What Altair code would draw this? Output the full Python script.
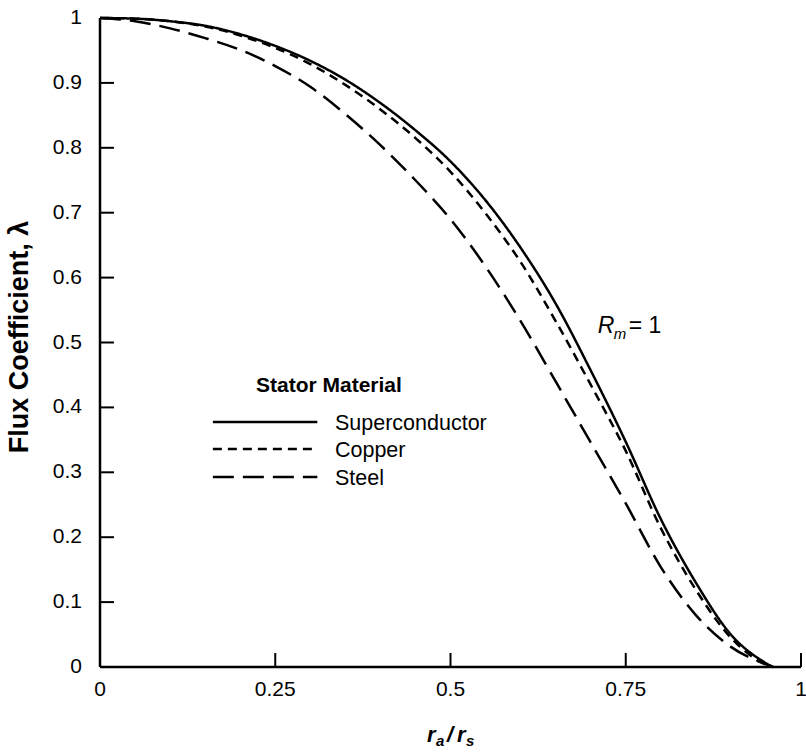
import altair as alt
import pandas as pd

# ---------------- data ----------------
x_vals = [0.00, 0.05, 0.10, 0.15, 0.20, 0.25, 0.30, 0.35, 0.40, 0.45, 0.50,
          0.55, 0.60, 0.65, 0.70, 0.75, 0.80, 0.85, 0.90, 0.95, 0.96]
superconductor = [1.000, 0.999, 0.995, 0.988, 0.975, 0.957, 0.934, 0.905, 0.869, 0.827, 0.779,
                  0.719, 0.646, 0.560, 0.457, 0.347, 0.228, 0.130, 0.050, 0.006, 0.000]
copper = [1.000, 0.999, 0.995, 0.987, 0.973, 0.954, 0.929, 0.897, 0.859, 0.815, 0.763,
          0.699, 0.624, 0.533, 0.435, 0.333, 0.214, 0.119, 0.045, 0.004, 0.000]
steel = [1.000, 0.995, 0.984, 0.969, 0.951, 0.926, 0.894, 0.852, 0.804, 0.750, 0.690,
         0.617, 0.533, 0.440, 0.346, 0.252, 0.154, 0.080, 0.031, 0.004, 0.000]
series_names = ["Superconductor", "Copper", "Steel"]
x_ticks = [0, 0.25, 0.5, 0.75, 1]
y_ticks = [0, 0.1, 0.2, 0.3, 0.4, 0.5, 0.6, 0.7, 0.8, 0.9, 1.0]
y_title = "Flux Coefficient, λ"

# ---------------- styles / layout ----------------
FONT = "Liberation Sans, Arial, sans-serif"
W, H = 701, 649
dashes = [[1, 0], [9, 6], [21, 9]]
LW = 2.5
TICK = 14

rows = []
for name, vals in zip(series_names, [superconductor, copper, steel]):
    for xv, yv in zip(x_vals, vals):
        rows.append({"x": xv, "y": yv, "series": name})
df = pd.DataFrame(rows)

xs = alt.Scale(domain=[0, 1], nice=False, zero=False)
ys = alt.Scale(domain=[0, 1], nice=False, zero=False)

lines = alt.Chart(df).mark_line(color="black", strokeWidth=LW, interpolate="monotone").encode(
    x=alt.X("x:Q", scale=xs, axis=None),
    y=alt.Y("y:Q", scale=ys, axis=None),
    strokeDash=alt.StrokeDash("series:N", scale=alt.Scale(domain=series_names, range=dashes), legend=None),
)

# axis lines
x_dom = alt.Chart(pd.DataFrame({"k": [0]})).mark_rule(color="black", strokeWidth=2.5).encode(
    x=alt.datum(0, scale=xs, axis=None), x2=alt.datum(1), y=alt.datum(0, scale=ys, axis=None))
y_dom = alt.Chart(pd.DataFrame({"k": [0]})).mark_rule(color="black", strokeWidth=2.5).encode(
    y=alt.datum(0, scale=ys, axis=None), y2=alt.datum(1), x=alt.datum(0, scale=xs, axis=None))

# inward tick marks
xt = alt.Chart(pd.DataFrame({"t": x_ticks[1:]})).transform_calculate(
    a="0", b=str(TICK / H)).mark_rule(color="black", strokeWidth=2).encode(
    x=alt.X("t:Q", scale=xs, axis=None), y=alt.Y("a:Q", scale=ys, axis=None), y2="b:Q")
yt = alt.Chart(pd.DataFrame({"t": y_ticks[1:]})).transform_calculate(
    a="0", b=str(TICK / W)).mark_rule(color="black", strokeWidth=2).encode(
    y=alt.Y("t:Q", scale=ys, axis=None), x=alt.X("a:Q", scale=xs, axis=None), x2="b:Q")

# tick labels
xl = alt.Chart(pd.DataFrame({"t": x_ticks})).transform_calculate(
    lab="format(datum.t, '~g')").mark_text(
    font=FONT, fontSize=21, color="black", align="center", baseline="top", dy=12).encode(
    x=alt.X("t:Q", scale=xs, axis=None), y=alt.datum(0, scale=ys, axis=None), text="lab:N")
yl = alt.Chart(pd.DataFrame({"t": y_ticks})).transform_calculate(
    lab="format(datum.t, '~g')").mark_text(
    font=FONT, fontSize=21, color="black", align="right", baseline="middle", dx=-18).encode(
    y=alt.Y("t:Q", scale=ys, axis=None), x=alt.datum(0, scale=xs, axis=None), text="lab:N")

# y title
ytitle = alt.Chart(pd.DataFrame({"s": [y_title]})).mark_text(
    font=FONT, fontSize=27, fontWeight="bold", color="black", angle=270,
    align="center", baseline="middle").encode(
    x=alt.datum(-80 / W, scale=xs, axis=None), y=alt.datum(0.5085, scale=ys, axis=None), text="s:N")

layers = [lines, x_dom, y_dom, xt, yt, xl, yl, ytitle]

# legend
leg_x0, leg_x1, leg_tx = 0.161, 0.310, 0.3352
leg_line_y = [0.3775, 0.3359, 0.2928]
leg_text_y = [0.3652, 0.3236, 0.2804]
for name, d, ly, ty in zip(series_names, dashes, leg_line_y, leg_text_y):
    layers.append(alt.Chart(pd.DataFrame({"n": [name]})).mark_rule(
        color="black", strokeWidth=LW, strokeDash=d).encode(
        x=alt.datum(leg_x0, scale=xs, axis=None), x2=alt.datum(leg_x1),
        y=alt.datum(ly, scale=ys, axis=None)))
    layers.append(alt.Chart(pd.DataFrame({"n": [name]})).mark_text(
        align="left", baseline="alphabetic", font=FONT, fontSize=21.5, color="black").encode(
        x=alt.datum(leg_tx, scale=xs, axis=None), y=alt.datum(ty, scale=ys, axis=None), text="n:N"))

def txt(s, x, y, size, dx=0, dy=0, weight="normal", style="normal"):
    return alt.Chart(pd.DataFrame({"s": [s]})).mark_text(
        align="left", baseline="alphabetic", font=FONT, fontSize=size, fontWeight=weight,
        fontStyle=style, color="black", dx=dx, dy=dy).encode(
        x=alt.datum(x, scale=xs, axis=None), y=alt.datum(y, scale=ys, axis=None), text="s:N")

layers.append(txt("Stator Material", 0.2225, 0.4237, 21, weight="bold"))

# R_m = 1
rx, ry = 0.710, 0.5146
layers += [txt("R", rx, ry, 23, style="italic"),
           txt("m", rx, ry, 15, dx=16, dy=6, style="italic"),
           txt("= 1", rx, ry, 23, dx=31)]

# x-axis title r_a / r_s
tx, ty = 0.4665, -0.1156
layers += [txt("r", tx, ty, 22, weight="bold", style="italic"),
           txt("a", tx, ty, 15, dx=9, dy=4, weight="bold", style="italic"),
           txt("/", tx, ty, 22, dx=20, weight="bold", style="italic"),
           txt("r", tx, ty, 22, dx=30, weight="bold", style="italic"),
           txt("s", tx, ty, 15, dx=39, dy=4, weight="bold", style="italic")]

chart = alt.layer(*layers).properties(
    width=W, height=H,
    padding={"left": 100, "top": 18, "right": 5, "bottom": 88},
    autosize=alt.AutoSizeParams(type="none"),
    background="white",
).configure_view(stroke=None)

chart.save("out.html", embed_options={"renderer": "svg", "actions": False})
